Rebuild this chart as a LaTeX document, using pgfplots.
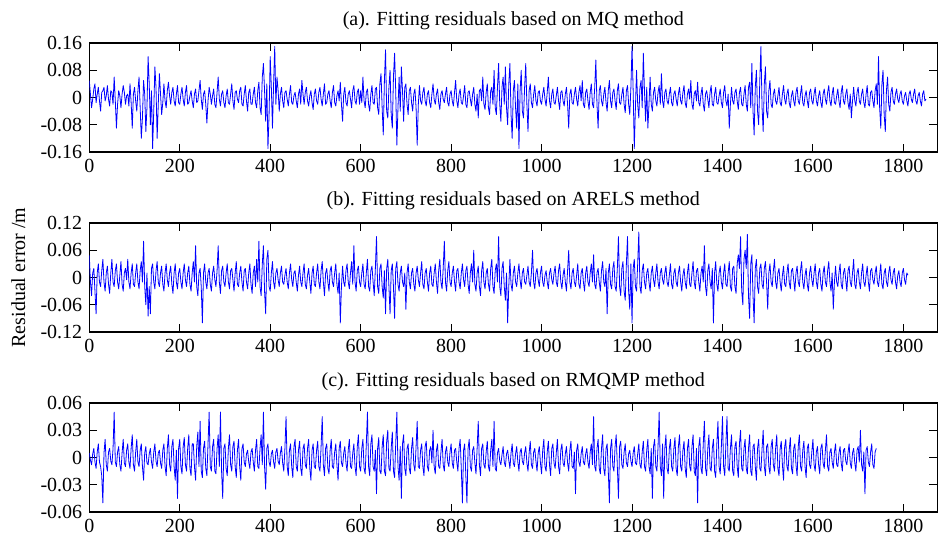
\documentclass[border=0pt]{standalone}
\usepackage{fontspec}
\setmainfont{Liberation Serif}
\usepackage{pgfplots}
\pgfplotsset{compat=1.18}

\pgfplotsset{
  resid/.style={
    scale only axis, width=424pt, height=54.5pt,
    xmin=0, xmax=1875,
    xtick={0,200,400,600,800,1000,1200,1400,1600,1800},
    xticklabels={0,200,400,600,800,1000,1200,1400,1600,1800},
    scaled y ticks=false, scaled x ticks=false,
    tick align=inside, tick pos=both, major tick length=4pt,
    axis line style={black, line width=0.6pt},
    every tick/.style={black, line width=0.5pt},
    tick label style={font=\fontsize{10}{12}\selectfont},
    every axis title shift=0pt,
    title style={font=\fontsize{10}{12}\selectfont, at={(0.5,1)}, anchor=base, yshift=8.5pt},
    anchor=north west,
  },
  resline/.style={blue, line width=0.4pt, line join=round},
}

\begin{document}
\begin{tikzpicture}
\useasboundingbox (-44.65pt,-250.5pt) rectangle (425.35pt,21.5pt);

% (a) MQ
\begin{axis}[resid, at={(0,0)},
  title={(a). Fitting residuals based on MQ method},
  ymin=-0.16, ymax=0.16,
  ytick={-0.16,-0.08,0,0.08,0.16},
  yticklabels={-0.16,-0.08,0,0.08,0.16}]
\addplot[resline] table[header=false, row sep=\\, x expr=\coordindex*2.5, y expr=\thisrowno{0}/1000] {
50\\10\\-30\\-5\\25\\40\\-15\\10\\30\\-10\\-40\\15\\20\\30\\-10\\5\\35\\-5\\-25\\20\\15\\-20\\60\\-10\\-90\\-20\\20\\5\\-30\\10\\35\\15\\-20\\5\\10\\-25\\40\\-15\\-90\\10\\
30\\-10\\-40\\20\\60\\-30\\-120\\-60\\50\\10\\-100\\-30\\120\\40\\-80\\20\\-150\\-40\\90\\30\\-120\\-20\\70\\10\\-50\\-15\\40\\-10\\-30\\20\\45\\5\\-20\\15\\30\\-10\\-25\\10\\35\\-15\\
-20\\10\\30\\-5\\-25\\15\\35\\-20\\-15\\5\\20\\-10\\-30\\10\\25\\-15\\-10\\20\\50\\-5\\-35\\10\\20\\-20\\-75\\-10\\30\\10\\-20\\5\\25\\-20\\-30\\15\\60\\-5\\-25\\10\\20\\-15\\
-30\\5\\25\\-15\\-20\\10\\40\\-10\\-35\\15\\20\\-5\\-15\\20\\30\\-20\\-25\\10\\35\\-10\\-40\\15\\25\\-20\\-20\\10\\30\\-15\\-30\\20\\45\\-30\\-50\\60\\100\\20\\-70\\40\\-150\\-50\\
120\\30\\-90\\40\\150\\-20\\60\\20\\-40\\10\\30\\-10\\-30\\15\\20\\-5\\-25\\10\\35\\-15\\-20\\5\\15\\-10\\-30\\10\\25\\-20\\50\\10\\-20\\15\\30\\-10\\-25\\5\\20\\-15\\-35\\10\\
25\\-10\\-20\\15\\30\\-5\\-25\\10\\40\\-20\\-15\\10\\20\\-10\\-30\\15\\35\\-15\\-25\\5\\20\\-10\\45\\-20\\-70\\10\\30\\-15\\-25\\10\\20\\-5\\-30\\20\\35\\-10\\-20\\15\\25\\-20\\
20\\-15\\60\\-10\\-30\\15\\25\\-20\\-40\\10\\35\\-15\\-20\\25\\30\\-30\\-50\\40\\70\\-30\\-110\\50\\140\\-40\\-60\\30\\80\\-50\\-90\\60\\130\\20\\-140\\-30\\60\\-40\\90\\20\\-70\\30\\
40\\-20\\-50\\20\\30\\-15\\-40\\10\\25\\-30\\-140\\-20\\35\\-10\\-20\\15\\30\\-10\\-25\\10\\20\\-15\\-30\\10\\40\\-5\\-20\\10\\25\\-15\\-35\\10\\20\\-5\\-15\\10\\30\\-15\\-25\\10\\
20\\-10\\-25\\15\\50\\-10\\-30\\10\\25\\-15\\-20\\5\\35\\-20\\-30\\15\\20\\-5\\-25\\10\\30\\-20\\-40\\10\\-60\\20\\25\\-10\\60\\-20\\-35\\15\\40\\-30\\-50\\20\\30\\-20\\80\\-30\\
-50\\30\\100\\-20\\-70\\30\\60\\-20\\90\\-30\\-80\\40\\100\\-50\\-120\\20\\50\\-30\\-90\\40\\-150\\20\\80\\-40\\-60\\30\\100\\-20\\-100\\20\\40\\-15\\-30\\10\\35\\-10\\-25\\15\\20\\-10\\
-20\\10\\30\\-5\\-25\\15\\60\\-10\\-30\\10\\25\\-15\\-20\\5\\30\\-10\\-35\\15\\20\\-10\\-25\\10\\30\\-20\\-90\\10\\25\\-15\\-20\\10\\30\\-5\\-25\\15\\35\\-10\\50\\-20\\-30\\15\\
25\\-10\\-35\\15\\40\\-20\\-30\\30\\110\\-20\\-90\\20\\35\\-10\\-25\\10\\30\\-15\\-40\\20\\50\\-10\\-30\\15\\25\\-10\\-35\\20\\40\\-15\\-20\\10\\30\\-20\\-45\\20\\35\\-20\\-50\\30\\
150\\20\\-150\\-30\\80\\-20\\-60\\30\\50\\-30\\130\\20\\-70\\30\\-90\\-20\\60\\-20\\-40\\15\\30\\-10\\-25\\15\\35\\-20\\70\\-10\\-30\\15\\25\\-10\\-20\\10\\30\\-15\\-25\\10\\20\\-5\\
-25\\10\\30\\-10\\-20\\15\\35\\-15\\-30\\10\\25\\-5\\50\\-20\\-35\\10\\20\\-10\\45\\-15\\-25\\10\\30\\-20\\-40\\10\\20\\-5\\-30\\15\\35\\-20\\-25\\10\\30\\-15\\-20\\5\\25\\-15\\
-30\\15\\35\\-10\\-25\\10\\-90\\-20\\30\\-10\\-20\\15\\25\\-10\\-35\\15\\30\\-20\\-25\\10\\35\\-20\\-40\\30\\45\\-30\\100\\-40\\-110\\30\\80\\-40\\-80\\50\\150\\-30\\-100\\40\\90\\-40\\
-60\\20\\50\\-20\\-30\\10\\25\\-10\\-20\\5\\30\\-15\\-25\\10\\35\\-5\\-20\\10\\25\\-15\\-30\\5\\20\\-10\\-25\\15\\30\\-10\\-20\\10\\35\\-15\\-25\\5\\20\\-10\\-30\\15\\25\\-10\\
-20\\10\\30\\-10\\-25\\5\\20\\-15\\-30\\10\\25\\-5\\-20\\15\\35\\-10\\-25\\10\\30\\-15\\-20\\5\\25\\-10\\-30\\15\\35\\-10\\-20\\10\\25\\-15\\-35\\10\\-60\\-10\\30\\-10\\-25\\15\\
30\\-10\\-20\\10\\25\\-15\\-30\\10\\35\\-20\\-25\\15\\20\\-10\\-30\\20\\40\\-20\\120\\-30\\-90\\40\\80\\-50\\-100\\20\\60\\-20\\-40\\15\\30\\-10\\-20\\10\\25\\-5\\-15\\10\\20\\-10\\
-20\\5\\15\\-10\\-25\\10\\20\\-5\\-15\\10\\25\\-10\\-20\\5\\15\\-10\\-25\\10\\20\\-10\\-5\\
};
\end{axis}

% (b) ARELS
\begin{axis}[resid, at={(0,-90pt)},
  title={(b). Fitting residuals based on ARELS method},
  ymin=-0.12, ymax=0.12,
  ytick={-0.12,-0.06,0,0.06,0.12},
  yticklabels={-0.12,-0.06,0,0.06,0.12}]
\addplot[resline] table[header=false, row sep=\\, x expr=\coordindex*2.5, y expr=\thisrowno{0}/1000] {
50\\-10\\-40\\10\\20\\-30\\-80\\10\\30\\-10\\-20\\15\\40\\-10\\-30\\10\\25\\-15\\-35\\10\\40\\-10\\-20\\15\\30\\-10\\-25\\5\\35\\-15\\-30\\10\\20\\-5\\40\\-10\\-25\\10\\30\\-15\\
-20\\10\\30\\-10\\-25\\15\\35\\-10\\80\\-20\\-60\\10\\-85\\-20\\-80\\20\\30\\-10\\-25\\15\\35\\-10\\-20\\10\\25\\-15\\-30\\10\\30\\-5\\-20\\10\\25\\-15\\-35\\10\\30\\-10\\-25\\10\\
20\\-10\\-25\\10\\30\\-5\\-20\\10\\25\\-15\\-30\\10\\35\\-10\\70\\-20\\-40\\10\\20\\-20\\-100\\10\\30\\-10\\-25\\10\\20\\-15\\-30\\10\\25\\-5\\-20\\15\\70\\-10\\-35\\15\\25\\-10\\
-20\\10\\30\\-10\\-25\\15\\20\\-5\\-30\\10\\35\\-15\\-20\\10\\25\\-10\\-30\\15\\20\\-10\\-25\\10\\30\\-15\\-35\\10\\25\\-20\\40\\-10\\80\\-20\\-40\\30\\70\\-30\\-80\\40\\60\\-20\\
-30\\10\\35\\-10\\-25\\10\\20\\-5\\-20\\10\\25\\-10\\-15\\5\\20\\-10\\-25\\10\\30\\-5\\-20\\10\\15\\-10\\-30\\5\\25\\-10\\-20\\10\\30\\-15\\-25\\5\\20\\-10\\-35\\10\\25\\-15\\
-20\\10\\30\\-10\\-25\\15\\35\\-10\\-40\\10\\20\\-10\\-30\\15\\25\\-10\\-20\\10\\30\\-15\\-35\\10\\-100\\-20\\25\\-10\\-20\\15\\30\\-10\\-25\\10\\35\\-15\\70\\-10\\-30\\15\\25\\-10\\
-20\\10\\30\\-15\\-25\\10\\40\\-20\\-30\\15\\25\\-10\\-40\\20\\90\\-20\\-35\\20\\30\\-20\\-45\\15\\-80\\20\\40\\-20\\-80\\15\\30\\-20\\-90\\20\\35\\-15\\-30\\10\\25\\-10\\-20\\10\\
-70\\10\\30\\-10\\-25\\10\\20\\-15\\-30\\10\\25\\-5\\-20\\10\\35\\-15\\-25\\10\\20\\-10\\-30\\10\\25\\-15\\-20\\10\\30\\-10\\-35\\15\\40\\-10\\-25\\20\\80\\-10\\-30\\15\\35\\-10\\
-20\\10\\25\\-10\\-30\\15\\20\\-10\\-25\\10\\30\\-5\\-20\\15\\25\\-15\\-35\\10\\30\\-10\\60\\-15\\-30\\10\\25\\-20\\-40\\15\\35\\-10\\-25\\10\\20\\-15\\-30\\20\\40\\-20\\-35\\15\\
30\\-10\\90\\-20\\-40\\20\\35\\-20\\-50\\10\\-100\\-20\\40\\-15\\-30\\10\\25\\-10\\-20\\10\\30\\-5\\-25\\10\\20\\-10\\-15\\5\\25\\-10\\-20\\10\\60\\-10\\-25\\10\\20\\-5\\-20\\10\\
25\\-10\\-20\\5\\15\\-10\\-25\\10\\20\\-5\\-15\\10\\25\\-10\\-20\\15\\30\\-10\\-25\\5\\20\\-10\\-30\\15\\60\\-10\\-25\\10\\20\\-10\\-20\\5\\30\\-15\\-25\\10\\20\\-10\\-30\\10\\
25\\-10\\-20\\10\\30\\-10\\50\\-15\\-25\\10\\20\\-10\\-30\\15\\35\\-10\\-20\\20\\-80\\10\\30\\-15\\-25\\20\\35\\-20\\-30\\20\\90\\-20\\-40\\20\\35\\-30\\-50\\30\\90\\-30\\-70\\30\\
-100\\20\\40\\-20\\-30\\30\\100\\-20\\-35\\15\\30\\-10\\-25\\10\\20\\-10\\-30\\10\\25\\-5\\-20\\10\\30\\-10\\-25\\10\\20\\-5\\-15\\10\\25\\-10\\-20\\5\\30\\-15\\-25\\10\\20\\-10\\
-20\\10\\25\\-10\\-30\\5\\20\\-10\\-25\\10\\30\\-15\\-20\\10\\35\\-10\\-25\\15\\20\\-10\\-30\\10\\25\\-10\\70\\-20\\-40\\15\\30\\-10\\-25\\20\\-100\\10\\35\\-15\\-30\\10\\25\\-10\\
-25\\10\\30\\-15\\-20\\10\\35\\-20\\-30\\20\\25\\-20\\-35\\30\\50\\20\\90\\-30\\-60\\40\\60\\20\\95\\-40\\-90\\30\\50\\-40\\-100\\20\\40\\-20\\-35\\20\\30\\-15\\-25\\20\\35\\-10\\
-70\\10\\30\\-10\\-20\\15\\40\\-10\\-25\\10\\20\\-10\\-30\\5\\25\\-15\\-20\\10\\30\\-10\\-25\\15\\20\\-5\\-30\\10\\25\\-10\\-20\\15\\35\\-10\\-25\\5\\20\\-15\\-30\\10\\25\\-5\\
-20\\10\\30\\-10\\-25\\10\\20\\-15\\-30\\10\\25\\-10\\-20\\15\\35\\-10\\-30\\10\\-70\\-10\\25\\-10\\-20\\10\\30\\-15\\-25\\10\\20\\-5\\-30\\15\\25\\-10\\-20\\10\\40\\-15\\-25\\10\\
20\\-10\\-25\\10\\30\\-10\\-20\\5\\25\\-10\\-30\\15\\20\\-5\\-15\\10\\25\\-10\\-20\\5\\30\\-15\\-25\\10\\20\\-10\\-20\\10\\25\\-5\\-15\\10\\20\\-10\\-25\\5\\15\\-10\\-20\\10\\
20\\-5\\-15\\10\\5\\
};
\end{axis}
\node[rotate=90, font=\fontsize{10}{12}\selectfont] at (-35.5pt,-117.25pt) {Residual error /m};

% (c) RMQMP
\begin{axis}[resid, at={(0,-180pt)},
  title={(c). Fitting residuals based on RMQMP method},
  ymin=-0.06, ymax=0.06,
  ytick={-0.06,-0.03,0,0.03,0.06},
  yticklabels={-0.06,-0.03,0,0.03,0.06}]
\addplot[resline] table[header=false, row sep=\\, x expr=\coordindex*2.5, y expr=\thisrowno{0}/1000] {
5\\-3\\-8\\4\\10\\-5\\-12\\6\\15\\-5\\-10\\-20\\-50\\5\\20\\-8\\-15\\6\\10\\-4\\-8\\10\\50\\-5\\-10\\6\\12\\-8\\-15\\5\\20\\-6\\-10\\8\\15\\-5\\-12\\10\\25\\-8\\
-15\\6\\20\\-5\\-10\\8\\15\\-10\\-25\\5\\12\\-6\\-8\\4\\10\\-5\\-12\\6\\15\\-4\\-10\\5\\8\\-6\\-12\\8\\15\\-10\\-20\\10\\25\\-8\\-15\\12\\20\\-10\\-25\\8\\-45\\10\\
20\\-10\\-18\\12\\22\\-8\\-15\\10\\25\\-12\\-20\\15\\15\\-10\\-25\\12\\28\\-10\\40\\-15\\-22\\10\\18\\-12\\-20\\15\\50\\-10\\-15\\12\\20\\-15\\-18\\10\\25\\-10\\50\\-15\\-45\\10\\
15\\-12\\-20\\10\\25\\-8\\-15\\12\\18\\-10\\-22\\8\\20\\-10\\-25\\10\\15\\-5\\-10\\4\\8\\-5\\-12\\6\\10\\-5\\-15\\8\\20\\-10\\-12\\10\\25\\-8\\50\\-10\\-35\\10\\15\\-5\\
-10\\4\\8\\-5\\-12\\6\\10\\-4\\-8\\5\\12\\-6\\-15\\10\\45\\-10\\-20\\8\\15\\-10\\-22\\12\\20\\-10\\-15\\8\\18\\-12\\-20\\10\\15\\-8\\-12\\10\\20\\-12\\-25\\8\\15\\-10\\
-12\\8\\18\\-10\\-15\\12\\45\\-8\\-20\\10\\15\\-12\\-18\\8\\20\\-10\\-12\\6\\15\\-8\\-25\\10\\18\\-6\\-10\\5\\12\\-6\\-15\\8\\20\\-10\\-12\\5\\15\\-10\\-20\\12\\25\\-10\\
-15\\10\\20\\-12\\-18\\15\\50\\-10\\-20\\15\\25\\-10\\-15\\8\\-40\\10\\22\\-15\\-18\\12\\25\\-15\\-20\\18\\30\\-12\\-15\\10\\28\\-15\\-22\\15\\50\\-10\\-25\\12\\-45\\15\\25\\-12\\
-20\\10\\15\\-12\\-18\\10\\22\\-8\\-15\\12\\40\\-10\\-12\\8\\15\\-10\\-20\\12\\18\\-10\\-15\\8\\12\\-6\\30\\-10\\-18\\8\\15\\-10\\-12\\6\\20\\-8\\-15\\6\\12\\-5\\-10\\6\\
15\\-6\\-12\\8\\10\\-5\\-15\\10\\20\\-12\\-50\\8\\15\\-20\\-50\\10\\20\\-10\\-15\\8\\12\\-6\\-18\\10\\40\\-8\\-20\\10\\15\\-8\\-12\\6\\18\\-10\\-15\\8\\20\\-10\\40\\-12\\
-15\\5\\10\\-4\\-8\\3\\12\\-5\\-10\\4\\8\\-3\\-12\\5\\15\\-6\\-10\\4\\12\\-5\\-15\\6\\10\\-4\\-8\\5\\12\\-6\\-15\\5\\18\\-8\\-12\\6\\10\\-4\\-15\\5\\12\\-6\\
-18\\8\\20\\-10\\-15\\6\\18\\-8\\-20\\10\\15\\-6\\-12\\5\\20\\-10\\-18\\8\\15\\-6\\-10\\4\\12\\-6\\-15\\8\\18\\-10\\-12\\6\\-40\\8\\15\\-5\\-10\\4\\12\\-5\\-8\\4\\
10\\-5\\-12\\6\\15\\-8\\45\\-10\\-15\\10\\20\\-12\\-18\\10\\25\\-12\\-20\\10\\15\\-15\\-50\\10\\20\\-10\\-15\\12\\25\\-10\\-45\\12\\18\\-8\\-12\\6\\15\\-6\\-10\\4\\8\\-4\\
-10\\5\\12\\-6\\-8\\4\\15\\-8\\-12\\6\\18\\-10\\-15\\8\\20\\-10\\-18\\10\\-45\\12\\20\\-10\\-15\\12\\50\\-10\\-20\\15\\-45\\10\\25\\-12\\-18\\10\\20\\-10\\-15\\10\\22\\-12\\
-20\\12\\25\\-10\\-15\\8\\18\\-12\\-22\\10\\20\\-10\\-15\\12\\25\\-15\\-20\\10\\-50\\12\\22\\-12\\-18\\15\\40\\-12\\-20\\10\\25\\-12\\-15\\10\\20\\-15\\-22\\15\\40\\-10\\-18\\12\\
45\\-10\\-20\\15\\45\\-12\\-15\\10\\25\\-15\\-20\\12\\18\\-10\\-22\\15\\30\\-12\\-15\\10\\20\\-12\\-18\\10\\25\\-15\\-20\\12\\15\\-10\\-25\\10\\20\\-12\\-15\\10\\30\\-10\\-20\\12\\
15\\-10\\-18\\12\\20\\-8\\-15\\10\\25\\-12\\-20\\10\\18\\-8\\-25\\12\\20\\-10\\-15\\8\\22\\-12\\-18\\10\\15\\-8\\-20\\12\\25\\-10\\-15\\8\\18\\-10\\-22\\10\\15\\-8\\-12\\6\\
20\\-8\\-15\\6\\12\\-8\\-18\\10\\15\\-6\\-12\\8\\25\\-10\\-15\\6\\10\\-5\\-12\\6\\15\\-8\\-10\\5\\12\\-6\\-15\\8\\10\\-4\\-8\\5\\15\\-6\\-12\\5\\10\\-6\\-15\\8\\
12\\-5\\30\\-8\\-15\\6\\-40\\8\\12\\-5\\-10\\6\\15\\-8\\-12\\6\\10\\
};
\end{axis}
\end{tikzpicture}
\end{document}
